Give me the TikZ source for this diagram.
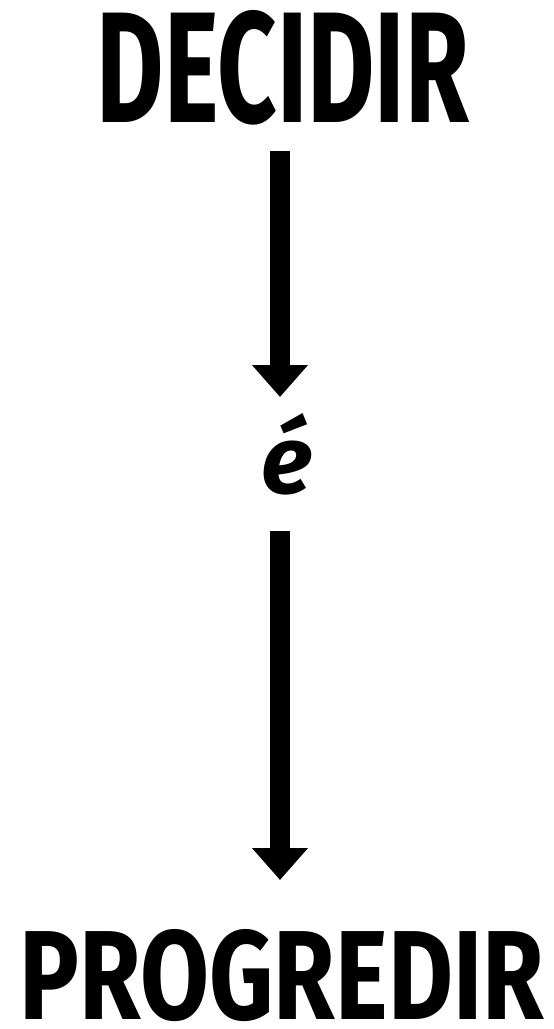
\documentclass[tikz,border=0pt]{standalone}
\usepackage{fontspec}
\setmainfont{Fira Sans}
\usetikzlibrary{arrows.meta}
\tikzset{
  word/.style={inner sep=0pt, outer sep=0pt, text=black},
  bigarrow/.style={line width=20pt, black,
    -{Triangle[width=54pt,length=32pt]}},
}
\begin{document}
\begin{tikzpicture}[x=1pt,y=-1pt]
\useasboundingbox[fill=white] (0,0) rectangle (554,1029);
\node[word] (dec) at (283,68) {\resizebox{372pt}{112pt}{\bfseries DECIDIR}};
\node[word] (e) at (287,454) {\resizebox{!}{80pt}{\bfseries\itshape é}};
\node[word] (prog) at (282,976) {\resizebox{524pt}{90pt}{\bfseries PROGREDIR}};
\draw[bigarrow, shorten <=26pt] (dec.south -| 280,0) -- (280,397) coordinate (t1);
\draw[bigarrow] (280,531) -- (280,880) coordinate (t2);
\end{tikzpicture}
\end{document}
